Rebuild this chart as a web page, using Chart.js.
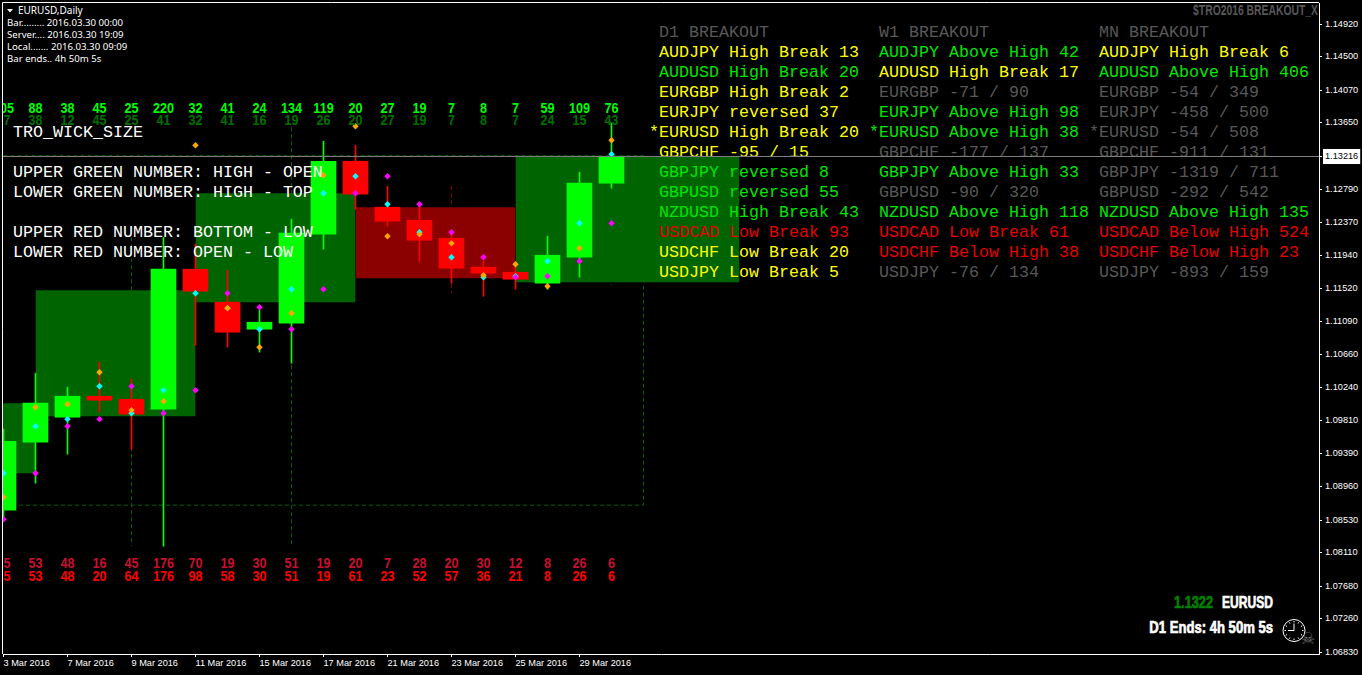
<!DOCTYPE html>
<html>
<head>
<meta charset="utf-8">
<title>EURUSD,Daily</title>
<script src="https://cdn.jsdelivr.net/npm/chart.js@4/dist/chart.umd.min.js"></script>
<style>
  html, body { margin: 0; padding: 0; background: #000; overflow: hidden; }
  canvas { display: block; }
</style>
</head>
<body>
<canvas id="eaChart" width="1362" height="675"></canvas>
<script>
// daily bars, 3 Mar 2016 .. 30 Mar 2016
const opens  = [1.08659,1.09535,1.09857,1.10128,1.10089,1.09960,1.11764,1.11339,1.10991,1.11068,1.12215,1.13155,1.12563,1.12395,1.12163,1.11790,1.11725,1.11584,1.11918,1.12872];
const closes = [1.09548,1.10038,1.10128,1.10076,1.09896,1.11764,1.11480,1.10952,1.11081,1.12228,1.13155,1.12730,1.12382,1.12137,1.11777,1.11712,1.11635,1.11944,1.12872,1.13216];
const highs  = [1.09703,1.10424,1.10244,1.10566,1.10347,1.12176,1.12086,1.11751,1.11236,1.12408,1.13413,1.13361,1.12833,1.12588,1.12228,1.11867,1.11803,1.12189,1.13013,1.13645];
const lows   = [1.08530,1.09007,1.09381,1.09922,1.09445,1.08196,1.10785,1.10759,1.10695,1.10553,1.12022,1.12537,1.12318,1.11867,1.11584,1.11416,1.11506,1.11506,1.11661,1.12807];

// pivot dots
const cyanDots    = [1.09136,1.09741,1.09832,1.10257,1.09909,1.10205,1.11455,1.11262,1.10991,1.11506,1.12743,1.12962,1.12601,1.12241,1.11918,1.11661,1.11674,1.11867,1.12356,1.13245];
const orangeDots  = [1.08827,1.09986,1.10025,1.10437,1.09948,1.10063,1.13361,1.11262,1.10759,1.11197,1.12975,1.13606,1.12189,1.12215,1.12099,1.11687,1.11828,1.11545,1.12034,1.13426];
const magentaDots = [1.08543,1.09136,1.09741,1.09832,1.10257,1.09909,1.10205,1.11455,1.11274,1.10991,1.11506,1.12743,1.12962,1.12601,1.12241,1.11918,1.11661,1.11674,1.11867,1.12356];

// wick numbers
const upperGreen = [105,88,38,45,25,220,32,41,24,134,119,20,27,19,7,8,7,59,109,76];
const lowerGreen = [17,38,12,45,25,41,32,41,16,19,26,20,27,19,7,8,7,24,15,43];
const upperRed   = [15,53,48,16,45,176,70,19,30,51,19,20,7,28,20,30,12,8,26,6];
const lowerRed   = [15,53,48,20,64,176,98,58,30,51,19,61,23,52,57,36,21,8,26,6];

// weekly boxes
const boxStart  = [-1,1,6,11,16];
const boxEnd    = [1,6,11,16,23];
const boxTop    = [1.10038,1.11493,1.12743,1.12563,1.13216];
const boxBottom = [1.09136,1.09870,1.11339,1.11648,1.11596];
const boxUp     = [true,true,true,false,true];

// dashed ranges
const rangeBar  = [4,9,14,19];
const rangeHigh = [1.12176,1.13593,1.12833,1.13645];
const rangeLow  = [1.08196,1.08208,1.11455,1.11558];
const rangeUp   = [true,true,false,true];
const monthEnd = 20;
const monthTop = 1.13226;
const monthBottom = 1.08724;

const lastPrice = 1.13216;
const priceTicks = [1.1492,1.145,1.1407,1.1365,1.13216,1.1279,1.1237,1.1194,1.1152,1.1109,1.1066,1.1024,1.0981,1.0939,1.0896,1.0853,1.0811,1.0768,1.0726,1.0683];
const dateTickBars = [0,2,4,6,8,10,12,14,16,18];
const dateTicks = ["3 Mar 2016","7 Mar 2016","9 Mar 2016","11 Mar 2016","15 Mar 2016","17 Mar 2016","21 Mar 2016","23 Mar 2016","25 Mar 2016","29 Mar 2016"];

// breakout panel, tone: y yellow, g green, r red, x grey
const d1Rows = ["AUDJPY High Break 13","AUDUSD High Break 20","EURGBP High Break 2","EURJPY reversed 37","*EURUSD High Break 20","GBPCHF -95 / 15","GBPJPY reversed 8","GBPUSD reversed 55","NZDUSD High Break 43","USDCAD Low Break 93","USDCHF Low Break 20","USDJPY Low Break 5"];
const d1Tone = ["y","g","y","y","y","y","g","g","g","r","y","y"];
const w1Rows = ["AUDJPY Above High 42","AUDUSD High Break 17","EURGBP -71 / 90","EURJPY Above High 98","*EURUSD Above High 38","GBPCHF -177 / 137","GBPJPY Above High 33","GBPUSD -90 / 320","NZDUSD Above High 118","USDCAD Low Break 61","USDCHF Below High 38","USDJPY -76 / 134"];
const w1Tone = ["g","y","x","g","g","x","g","x","g","r","r","x"];
const mnRows = ["AUDJPY High Break 6","AUDUSD Above High 406","EURGBP -54 / 349","EURJPY -458 / 500","*EURUSD -54 / 508","GBPCHF -911 / 131","GBPJPY -1319 / 711","GBPUSD -292 / 542","NZDUSD Above High 135","USDCAD Below High 524","USDCHF Below High 23","USDJPY -893 / 159"];
const mnTone = ["y","g","x","x","x","x","x","x","g","r","r","x"];

const infoLines = ["Bar......... 2016.03.30 00:00","Server.... 2016.03.30 19:09","Local....... 2016.03.30 09:09","Bar ends.. 4h 50m 5s"];
const noteLines = [["TRO_WICK_SIZE",133],["UPPER GREEN NUMBER: HIGH - OPEN",173],["LOWER GREEN NUMBER: HIGH - TOP",193],["UPPER RED NUMBER: BOTTOM - LOW",233],["LOWER RED NUMBER: OPEN - LOW",253]];

const LIME = "#00ff00", RED = "#ff0000", DARKGREEN = "#006400", DARKRED = "#8b0000";
const tones = { y: "#ffff00", g: "#00e600", r: "#e60000", x: "#585858" };
const MONO = "16.67px 'Liberation Mono'";

function put(ctx, str, x, y, font, color, align) {
  ctx.font = font;
  ctx.fillStyle = color;
  ctx.textAlign = align || "left";
  ctx.textBaseline = "middle";
  ctx.fillText(str, x, y);
}

// no narrow face installed, so squeeze the bold one
function putNarrow(ctx, str, x, y, size, squeeze, color, align, heavy) {
  ctx.save();
  ctx.translate(x, y);
  ctx.scale(squeeze, 1);
  put(ctx, str, 0, 0, "bold " + size + "px 'Liberation Sans'", color, align);
  if (heavy) {
    ctx.strokeStyle = color;
    ctx.lineWidth = heavy;
    ctx.strokeText(str, 0, 0);
  }
  ctx.restore();
}

function panel(ctx, rows, tone, x, title) {
  put(ctx, title, x, 33, MONO, tones.x);
  rows.forEach((row, i) => {
    // the star hangs left of the column
    put(ctx, row, row[0] === "*" ? x - 10 : x, 53 + i * 20, MONO, tones[tone[i]]);
  });
}

const textPlugin = {
  id: "textPlugin",
  afterDatasetsDraw(chart) {
    const ctx = chart.ctx;
    const sx = chart.scales.x, sy = chart.scales.y, area = chart.chartArea;
    ctx.save();

    // numbers over and under the bars
    ctx.save();
    ctx.beginPath();
    ctx.rect(area.left, area.top, area.width, area.height);
    ctx.clip();
    opens.forEach((o, i) => {
      const x = sx.getPixelForValue(i);
      putNarrow(ctx, String(upperGreen[i]), x, 109, 15, 0.84, LIME, "center");
      putNarrow(ctx, String(lowerGreen[i]), x, 121, 15, 0.84, "#006f00", "center");
      putNarrow(ctx, String(upperRed[i]), x, 564, 15, 0.84, "#c8102e", "center");
      putNarrow(ctx, String(lowerRed[i]), x, 577, 15, 0.84, RED, "center");
    });
    ctx.restore();

    noteLines.forEach(n => put(ctx, n[0], 13, n[1], MONO, "#ffffff"));
    panel(ctx, d1Rows, d1Tone, 659, "D1 BREAKOUT");
    panel(ctx, w1Rows, w1Tone, 879, "W1 BREAKOUT");
    panel(ctx, mnRows, mnTone, 1099, "MN BREAKOUT");

    // price line goes over the panel text
    const py = sy.getPixelForValue(lastPrice);
    ctx.strokeStyle = "#808080";
    ctx.lineWidth = 1;
    ctx.beginPath();
    ctx.moveTo(area.left, py);
    ctx.lineTo(area.right, py);
    ctx.stroke();

    // top left info
    ctx.fillStyle = "#ffffff";
    ctx.beginPath();
    ctx.moveTo(7, 9);
    ctx.lineTo(13, 9);
    ctx.lineTo(10, 12.5);
    ctx.fill();
    put(ctx, "EURUSD,Daily", 18, 11, "10px 'Noto Sans'", "#ffffff");
    infoLines.forEach((t, i) => put(ctx, t, 7, 23 + i * 12, "9.65px 'Noto Sans'", "#ffffff"));

    putNarrow(ctx, "$TRO2016 BREAKOUT_X", 1318, 11, 14, 0.74, "#585858", "right");
    putNarrow(ctx, "1.1322", 1213, 603, 17, 0.75, "#008000", "right", 0.7);
    putNarrow(ctx, "EURUSD", 1273, 603, 17, 0.71, "#ffffff", "right", 0.7);
    putNarrow(ctx, "D1 Ends: 4h 50m 5s", 1273, 628, 17, 0.77, "#ffffff", "right", 0.7);

    // clock and skull
    const cx = 1294, cy = 630.5;
    ctx.strokeStyle = "#ffffff";
    ctx.lineWidth = 1;
    ctx.beginPath();
    ctx.arc(cx, cy, 11, 0, Math.PI * 2);
    for (let h = 0; h < 12; h++) {
      const a = h * Math.PI / 6;
      ctx.moveTo(cx + Math.cos(a) * 8, cy + Math.sin(a) * 8);
      ctx.lineTo(cx + Math.cos(a) * 9.5, cy + Math.sin(a) * 9.5);
    }
    ctx.moveTo(cx, cy);
    ctx.lineTo(cx, cy - 7);
    ctx.moveTo(cx, cy);
    ctx.lineTo(cx - 6, cy);
    ctx.stroke();
    put(ctx, "\u2620", 1308, 640, "16px 'DejaVu Sans'", "#707070", "center");

    // frame on the two sides that have no axis
    ctx.strokeStyle = "#ffffff";
    ctx.beginPath();
    ctx.moveTo(area.left - 0.5, area.bottom);
    ctx.lineTo(area.left - 0.5, area.top - 0.5);
    ctx.lineTo(area.right, area.top - 0.5);
    ctx.stroke();
    ctx.restore();
  }
};

const barIndex = opens.map((o, i) => i);
const datasets = [];

boxStart.forEach((s, i) => {
  datasets.push({
    type: "line",
    data: [{ x: s, y: boxTop[i] }, { x: boxEnd[i], y: boxTop[i] }],
    borderWidth: 0,
    pointRadius: 0,
    fill: { value: boxBottom[i] },
    backgroundColor: boxUp[i] ? DARKGREEN : DARKRED,
    order: 4
  });
});

rangeBar.forEach((b, i) => {
  datasets.push({
    type: "line",
    data: [{ x: b, y: rangeHigh[i] }, { x: b, y: rangeLow[i] }],
    borderColor: rangeUp[i] ? DARKGREEN : DARKRED,
    borderWidth: 1,
    borderDash: [4, 3],
    pointRadius: 0,
    order: 5
  });
});

datasets.push({
  type: "line",
  data: [
    { x: 0, y: monthTop }, { x: monthEnd, y: monthTop },
    { x: monthEnd, y: monthBottom }, { x: 0, y: monthBottom }
  ],
  borderColor: DARKGREEN,
  borderWidth: 1,
  borderDash: [4, 3],
  pointRadius: 0,
  order: 5
});

const barColors = barIndex.map(i => closes[i] >= opens[i] ? LIME : RED);
datasets.push({
  type: "bar",
  data: barIndex.map(i => ({ x: i, y: [lows[i], highs[i]] })),
  backgroundColor: barColors,
  barThickness: 1,
  grouped: false,
  order: 3
});
datasets.push({
  type: "bar",
  data: barIndex.map(i => ({ x: i, y: [opens[i], closes[i]] })),
  backgroundColor: barColors,
  barThickness: 25,
  grouped: false,
  order: 2
});

[[cyanDots, "#00ffff"], [magentaDots, "#ff00ff"], [orangeDots, "#ffa500"]].forEach((d, n) => {
  datasets.push({
    type: "scatter",
    data: barIndex.map(i => ({ x: i, y: d[0][i] })),
    showLine: false,
    pointStyle: "rectRot",
    pointRadius: 3.2,
    pointBorderWidth: 0,
    pointBackgroundColor: d[1],
    order: 1 - n * 0.1
  });
});

// opaque context, text then gets the same subpixel look as the terminal
new Chart(document.getElementById("eaChart").getContext("2d", { alpha: false }), {
  type: "bar",
  data: { datasets: datasets },
  plugins: [textPlugin],
  options: {
    responsive: false,
    animation: false,
    events: [],
    layout: { autoPadding: false, padding: { left: 3, top: 3, right: 0, bottom: 0 } },
    plugins: { legend: { display: false }, tooltip: { enabled: false } },
    scales: {
      x: {
        type: "linear",
        offset: false,
        min: -0.015625,
        max: 41.109375,
        afterFit: s => { s.height = 21; s.paddingLeft = 0; s.paddingRight = 0; },
        afterBuildTicks: s => { s.ticks = dateTickBars.map(v => ({ value: v })); },
        grid: { offset: false, drawOnChartArea: false, color: "#fff", tickLength: 3 },
        border: { color: "#fff" },
        ticks: {
          autoSkip: false,
          maxRotation: 0,
          align: "start",
          padding: 1,
          color: "#fff",
          font: { family: "Liberation Sans", size: 9.2 },
          callback: v => dateTicks[dateTickBars.indexOf(v)]
        }
      },
      y: {
        position: "right",
        min: 1.068067,
        max: 1.151935,
        afterFit: s => { s.width = 43; s.paddingTop = 0; s.paddingBottom = 0; },
        afterBuildTicks: s => { s.ticks = priceTicks.map(v => ({ value: v })); },
        grid: { drawOnChartArea: false, color: "#fff", tickLength: 3 },
        border: { color: "#fff" },
        ticks: {
          autoSkip: false,
          padding: 3,
          font: { family: "Liberation Sans", size: 9.2 },
          color: c => c.tick.value === lastPrice ? "#000" : "#fff",
          showLabelBackdrop: c => c.tick.value === lastPrice,
          backdropColor: "#fff",
          backdropPadding: 2,
          callback: v => v.toFixed(5)
        }
      }
    }
  }
});
</script>
</body>
</html>
